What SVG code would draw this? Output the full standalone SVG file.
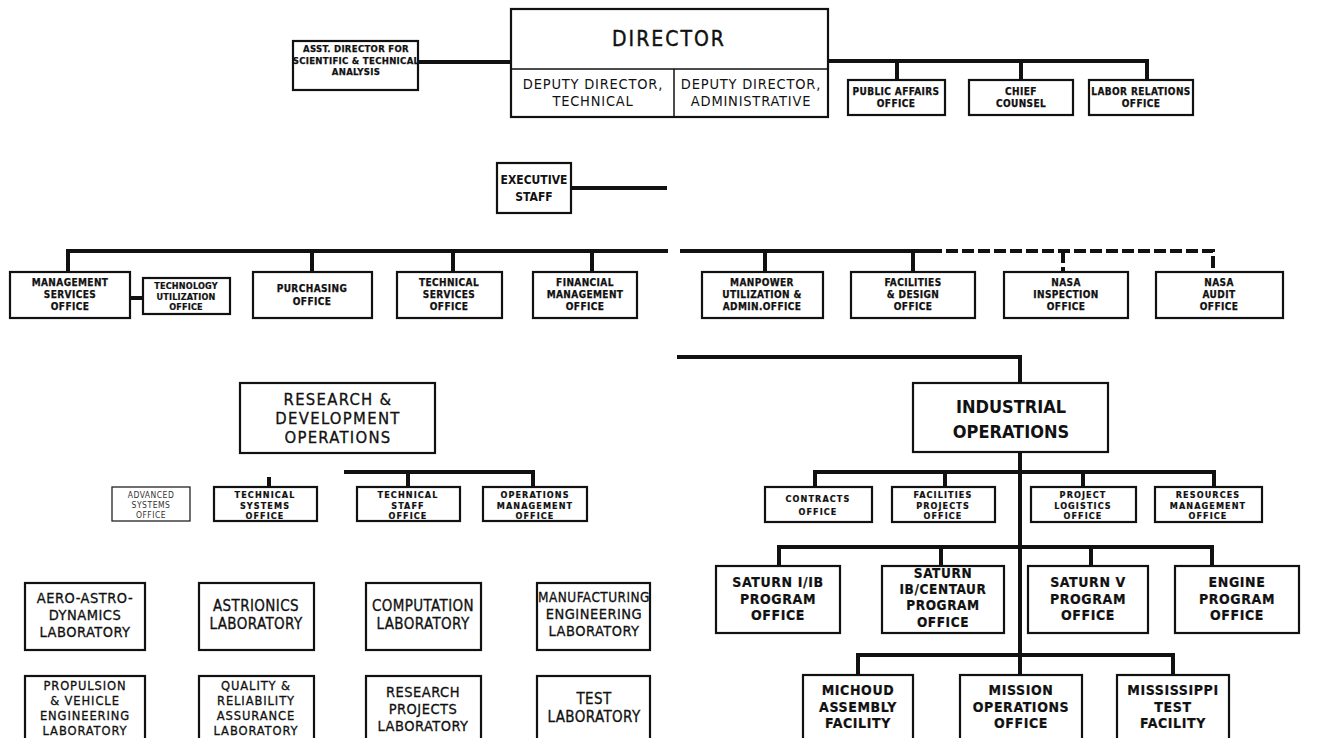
<svg xmlns="http://www.w3.org/2000/svg" width="1317" height="738" viewBox="0 0 1317 738">
<style>
.bg{fill:#fff}
.box{fill:#fff;stroke:#111;stroke-width:2.2}
.thin{fill:#fff;stroke:#222;stroke-width:1.3}
.div{stroke:#111;stroke-width:1.5;fill:none}
.con{stroke:#111;stroke-width:4;fill:none}
.dash{stroke:#111;stroke-width:4;fill:none;stroke-dasharray:12 4}
text{font-family:"DejaVu Sans Condensed","DejaVu Sans","Liberation Sans",sans-serif;font-stretch:condensed;fill:#111;text-anchor:middle}
.a95{font-size:9.5px;font-weight:bold;letter-spacing:0.3px;stroke:#111;stroke-width:0.25}
.s10{font-size:10px;font-weight:bold;letter-spacing:0.4px;stroke:#111;stroke-width:0.25}
.s9{font-size:9px;font-weight:bold;letter-spacing:1.1px;stroke:#111;stroke-width:0.2}
.n85{font-size:8.5px;fill:#333;letter-spacing:0.5px}
.b12{font-size:12px;font-weight:bold}
.p14{font-size:14px;font-weight:bold;letter-spacing:0.6px;stroke:#111;stroke-width:0.2}
.p135{font-size:13.5px;font-weight:bold;letter-spacing:0.6px;stroke:#111;stroke-width:0.2}
.b18{font-size:18px;font-weight:bold}
.n145{font-size:14.5px;letter-spacing:0.8px}
.l15{font-size:15px;letter-spacing:0.4px;stroke:#111;stroke-width:0.3}
.l145{font-size:14.5px;letter-spacing:0.5px;stroke:#111;stroke-width:0.3}
.l128{font-size:12.8px;letter-spacing:0.9px;stroke:#111;stroke-width:0.3}
.n165{font-size:16.5px;letter-spacing:1.3px;stroke:#111;stroke-width:0.3}
.n20{font-size:21px;letter-spacing:2px;stroke:#111;stroke-width:0.4}
</style>
<rect class="bg" x="0" y="0" width="1317" height="738"/>

<g id="connectors">
  <line class="con" x1="418" y1="62" x2="511" y2="62"/>
  <path class="con" d="M828,61 H1147 V80"/>
  <line class="con" x1="897" y1="61" x2="897" y2="80"/>
  <line class="con" x1="1021" y1="61" x2="1021" y2="80"/>
  <line class="con" x1="571" y1="188" x2="667" y2="188"/>
  <path class="con" d="M68,272 V251 H668"/>
  <line class="con" x1="680" y1="251" x2="930" y2="251"/>
  <path class="dash" d="M930,251 H1213 V272"/>
  <line class="dash" x1="1063" y1="251" x2="1063" y2="272"/>
  <line class="con" x1="312" y1="251" x2="312" y2="272"/>
  <line class="con" x1="453" y1="251" x2="453" y2="272"/>
  <line class="con" x1="592" y1="251" x2="592" y2="272"/>
  <line class="con" x1="765" y1="251" x2="765" y2="272"/>
  <line class="con" x1="913" y1="251" x2="913" y2="272"/>
  <line class="con" x1="130" y1="298" x2="143" y2="298"/>
  <path class="con" d="M677,357 H1020 V383"/>
  <path class="con" d="M344,472 H533 V487"/>
  <line class="con" x1="408" y1="472" x2="408" y2="487"/>
  <line class="con" x1="269" y1="477" x2="269" y2="487"/>
  <line class="con" x1="1020" y1="452" x2="1020" y2="675"/>
  <path class="con" d="M815,487 V472 H1214 V487"/>
  <line class="con" x1="945" y1="472" x2="945" y2="487"/>
  <line class="con" x1="1083" y1="472" x2="1083" y2="487"/>
  <path class="con" d="M779,566 V547 H1212 V566"/>
  <line class="con" x1="941" y1="547" x2="941" y2="566"/>
  <line class="con" x1="1091" y1="547" x2="1091" y2="566"/>
  <path class="con" d="M858,675 V655 H1173 V675"/>
</g>

<g id="director">
  <rect class="box" x="511" y="9" width="317" height="108"/>
  <line class="div" x1="511" y1="69" x2="828" y2="69"/>
  <line class="div" x1="674" y1="69" x2="674" y2="117"/>
  <text class="n20" x="669" y="46">DIRECTOR</text>
  <text class="n145" x="593" y="89">DEPUTY DIRECTOR,</text>
  <text class="n145" x="593" y="106">TECHNICAL</text>
  <text class="n145" x="751" y="89">DEPUTY DIRECTOR,</text>
  <text class="n145" x="751" y="106">ADMINISTRATIVE</text>
</g>
<g id="asst-director">
  <rect class="box" x="293" y="41" width="125" height="49"/>
  <text class="a95" x="356" y="52">ASST. DIRECTOR FOR</text>
  <text class="a95" x="356" y="63.5">SCIENTIFIC &amp; TECHNICAL</text>
  <text class="a95" x="356" y="75">ANALYSIS</text>
</g>
<g id="public-affairs">
  <rect class="box" x="848" y="80" width="97" height="35"/>
  <text class="s10" x="896" y="95">PUBLIC AFFAIRS</text>
  <text class="s10" x="896" y="107">OFFICE</text>
</g>
<g id="chief-counsel">
  <rect class="box" x="969" y="80" width="104" height="35"/>
  <text class="s10" x="1021" y="95">CHIEF</text>
  <text class="s10" x="1021" y="107">COUNSEL</text>
</g>
<g id="labor-relations">
  <rect class="box" x="1089" y="80" width="104" height="35"/>
  <text class="s10" x="1141" y="95">LABOR RELATIONS</text>
  <text class="s10" x="1141" y="107">OFFICE</text>
</g>
<g id="executive-staff">
  <rect class="box" x="497" y="163" width="74" height="50"/>
  <text class="b12" x="534" y="184">EXECUTIVE</text>
  <text class="b12" x="534" y="201">STAFF</text>
</g>

<g id="management-services">
  <rect class="box" x="10" y="272" width="120" height="46"/>
  <text class="s10" x="70" y="286">MANAGEMENT</text>
  <text class="s10" x="70" y="298">SERVICES</text>
  <text class="s10" x="70" y="310">OFFICE</text>
</g>
<g id="technology-utilization">
  <rect class="box" x="143" y="278" width="87" height="36"/>
  <text class="s9" x="186" y="289" style="letter-spacing:0.2px">TECHNOLOGY</text>
  <text class="s9" x="186" y="299.5" style="letter-spacing:0.2px">UTILIZATION</text>
  <text class="s9" x="186" y="310" style="letter-spacing:0.2px">OFFICE</text>
</g>
<g id="purchasing">
  <rect class="box" x="253" y="272" width="119" height="46"/>
  <text class="s10" x="312" y="292">PURCHASING</text>
  <text class="s10" x="312" y="305">OFFICE</text>
</g>
<g id="technical-services">
  <rect class="box" x="397" y="272" width="105" height="46"/>
  <text class="s10" x="449" y="286">TECHNICAL</text>
  <text class="s10" x="449" y="298">SERVICES</text>
  <text class="s10" x="449" y="310">OFFICE</text>
</g>
<g id="financial-management">
  <rect class="box" x="533" y="272" width="104" height="46"/>
  <text class="s10" x="585" y="286">FINANCIAL</text>
  <text class="s10" x="585" y="298">MANAGEMENT</text>
  <text class="s10" x="585" y="310">OFFICE</text>
</g>
<g id="manpower">
  <rect class="box" x="702" y="272" width="121" height="46"/>
  <text class="s10" x="762" y="286">MANPOWER</text>
  <text class="s10" x="762" y="298">UTILIZATION &amp;</text>
  <text class="s10" x="762" y="310">ADMIN.OFFICE</text>
</g>
<g id="facilities-design">
  <rect class="box" x="851" y="272" width="124" height="46"/>
  <text class="s10" x="913" y="286">FACILITIES</text>
  <text class="s10" x="913" y="298">&amp; DESIGN</text>
  <text class="s10" x="913" y="310">OFFICE</text>
</g>
<g id="nasa-inspection">
  <rect class="box" x="1004" y="272" width="124" height="46"/>
  <text class="s10" x="1066" y="286">NASA</text>
  <text class="s10" x="1066" y="298">INSPECTION</text>
  <text class="s10" x="1066" y="310">OFFICE</text>
</g>
<g id="nasa-audit">
  <rect class="box" x="1156" y="272" width="127" height="46"/>
  <text class="s10" x="1219" y="286">NASA</text>
  <text class="s10" x="1219" y="298">AUDIT</text>
  <text class="s10" x="1219" y="310">OFFICE</text>
</g>

<g id="rd-operations">
  <rect class="box" x="240" y="383" width="195" height="70"/>
  <text class="n165" x="338" y="405">RESEARCH &amp;</text>
  <text class="n165" x="338" y="424">DEVELOPMENT</text>
  <text class="n165" x="338" y="443">OPERATIONS</text>
</g>
<g id="advanced-systems">
  <rect class="thin" x="112" y="487" width="78" height="34"/>
  <text class="n85" x="151" y="498">ADVANCED</text>
  <text class="n85" x="151" y="508">SYSTEMS</text>
  <text class="n85" x="151" y="518">OFFICE</text>
</g>
<g id="technical-systems">
  <rect class="box" x="214" y="487" width="103" height="34"/>
  <text class="s9" x="265" y="498">TECHNICAL</text>
  <text class="s9" x="265" y="508.5">SYSTEMS</text>
  <text class="s9" x="265" y="519">OFFICE</text>
</g>
<g id="technical-staff">
  <rect class="box" x="357" y="487" width="103" height="34"/>
  <text class="s9" x="408" y="498">TECHNICAL</text>
  <text class="s9" x="408" y="508.5">STAFF</text>
  <text class="s9" x="408" y="519">OFFICE</text>
</g>
<g id="operations-management">
  <rect class="box" x="483" y="487" width="104" height="34"/>
  <text class="s9" x="535" y="498">OPERATIONS</text>
  <text class="s9" x="535" y="508.5">MANAGEMENT</text>
  <text class="s9" x="535" y="519">OFFICE</text>
</g>

<g id="industrial-operations">
  <rect class="box" x="913" y="383" width="195" height="69"/>
  <text class="b18" x="1011" y="413">INDUSTRIAL</text>
  <text class="b18" x="1011" y="438">OPERATIONS</text>
</g>
<g id="contracts">
  <rect class="box" x="765" y="487" width="107" height="35"/>
  <text class="s9" x="818" y="502">CONTRACTS</text>
  <text class="s9" x="818" y="515">OFFICE</text>
</g>
<g id="facilities-projects">
  <rect class="box" x="892" y="487" width="103" height="35"/>
  <text class="s9" x="943" y="498">FACILITIES</text>
  <text class="s9" x="943" y="508.5">PROJECTS</text>
  <text class="s9" x="943" y="519">OFFICE</text>
</g>
<g id="project-logistics">
  <rect class="box" x="1031" y="487" width="105" height="35"/>
  <text class="s9" x="1083" y="498">PROJECT</text>
  <text class="s9" x="1083" y="508.5">LOGISTICS</text>
  <text class="s9" x="1083" y="519">OFFICE</text>
</g>
<g id="resources-management">
  <rect class="box" x="1155" y="487" width="107" height="35"/>
  <text class="s9" x="1208" y="498">RESOURCES</text>
  <text class="s9" x="1208" y="508.5">MANAGEMENT</text>
  <text class="s9" x="1208" y="519">OFFICE</text>
</g>

<g id="saturn-i-ib">
  <rect class="box" x="716" y="566" width="124" height="67"/>
  <text class="p14" x="778" y="587">SATURN I/IB</text>
  <text class="p14" x="778" y="603.5">PROGRAM</text>
  <text class="p14" x="778" y="620">OFFICE</text>
</g>
<g id="saturn-ib-centaur">
  <rect class="box" x="882" y="566" width="122" height="67"/>
  <text class="p135" x="943" y="578">SATURN</text>
  <text class="p135" x="943" y="594">IB/CENTAUR</text>
  <text class="p135" x="943" y="610">PROGRAM</text>
  <text class="p135" x="943" y="627">OFFICE</text>
</g>
<g id="saturn-v">
  <rect class="box" x="1028" y="566" width="120" height="67"/>
  <text class="p14" x="1088" y="587">SATURN V</text>
  <text class="p14" x="1088" y="603.5">PROGRAM</text>
  <text class="p14" x="1088" y="620">OFFICE</text>
</g>
<g id="engine">
  <rect class="box" x="1175" y="566" width="124" height="67"/>
  <text class="p14" x="1237" y="587">ENGINE</text>
  <text class="p14" x="1237" y="603.5">PROGRAM</text>
  <text class="p14" x="1237" y="620">OFFICE</text>
</g>
<g id="michoud">
  <rect class="box" x="803" y="675" width="110" height="65"/>
  <text class="p14" x="858" y="695">MICHOUD</text>
  <text class="p14" x="858" y="711.5">ASSEMBLY</text>
  <text class="p14" x="858" y="728">FACILITY</text>
</g>
<g id="mission-operations">
  <rect class="box" x="960" y="675" width="122" height="65"/>
  <text class="p14" x="1021" y="695">MISSION</text>
  <text class="p14" x="1021" y="711.5">OPERATIONS</text>
  <text class="p14" x="1021" y="728">OFFICE</text>
</g>
<g id="mississippi">
  <rect class="box" x="1117" y="675" width="112" height="65"/>
  <text class="p14" x="1173" y="695">MISSISSIPPI</text>
  <text class="p14" x="1173" y="711.5">TEST</text>
  <text class="p14" x="1173" y="728">FACILITY</text>
</g>

<g id="aero-astro">
  <rect class="box" x="25" y="583" width="120" height="67"/>
  <text class="l145" x="85" y="603">AERO-ASTRO-</text>
  <text class="l145" x="85" y="620">DYNAMICS</text>
  <text class="l145" x="85" y="637">LABORATORY</text>
</g>
<g id="astrionics">
  <rect class="box" x="199" y="583" width="115" height="67"/>
  <text class="l15" x="256" y="611">ASTRIONICS</text>
  <text class="l15" x="256" y="629">LABORATORY</text>
</g>
<g id="computation">
  <rect class="box" x="366" y="583" width="115" height="67"/>
  <text class="l15" x="423" y="611">COMPUTATION</text>
  <text class="l15" x="423" y="629">LABORATORY</text>
</g>
<g id="manufacturing">
  <rect class="box" x="537" y="583" width="113" height="67"/>
  <text class="l145" x="594" y="602" textLength="112" lengthAdjust="spacingAndGlyphs">MANUFACTURING</text>
  <text class="l145" x="594" y="619">ENGINEERING</text>
  <text class="l145" x="594" y="636">LABORATORY</text>
</g>
<g id="propulsion">
  <rect class="box" x="25" y="676" width="120" height="66"/>
  <text class="l128" x="85" y="690">PROPULSION</text>
  <text class="l128" x="85" y="705">&amp; VEHICLE</text>
  <text class="l128" x="85" y="720">ENGINEERING</text>
  <text class="l128" x="85" y="735">LABORATORY</text>
</g>
<g id="quality">
  <rect class="box" x="199" y="676" width="115" height="66"/>
  <text class="l128" x="256" y="690">QUALITY &amp;</text>
  <text class="l128" x="256" y="705">RELIABILITY</text>
  <text class="l128" x="256" y="720">ASSURANCE</text>
  <text class="l128" x="256" y="735">LABORATORY</text>
</g>
<g id="research-projects">
  <rect class="box" x="366" y="676" width="115" height="66"/>
  <text class="l145" x="423" y="697">RESEARCH</text>
  <text class="l145" x="423" y="714">PROJECTS</text>
  <text class="l145" x="423" y="731">LABORATORY</text>
</g>
<g id="test">
  <rect class="box" x="537" y="676" width="113" height="66"/>
  <text class="l15" x="594" y="704">TEST</text>
  <text class="l15" x="594" y="722">LABORATORY</text>
</g>
</svg>
